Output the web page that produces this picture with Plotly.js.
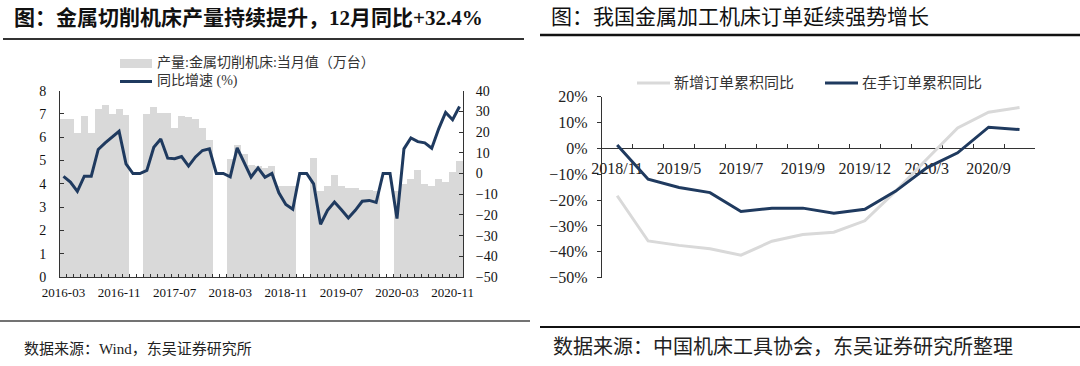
<!DOCTYPE html>
<html>
<head>
<meta charset="utf-8">
<script src="https://cdn.plot.ly/plotly-3.0.1.min.js"></script>
<style>
html,body{margin:0;padding:0;background:#fff;}
#chart{width:1080px;height:366px;}
</style>
</head>
<body>
<div id="chart"></div>
<script>
// ---------- Left chart data ----------
const months = [
 "2016-03","2016-04","2016-05","2016-06","2016-07","2016-08","2016-09","2016-10","2016-11","2016-12",
 "2017-01","2017-02","2017-03","2017-04","2017-05","2017-06","2017-07","2017-08","2017-09","2017-10","2017-11","2017-12",
 "2018-01","2018-02","2018-03","2018-04","2018-05","2018-06","2018-07","2018-08","2018-09","2018-10","2018-11","2018-12",
 "2019-01","2019-02","2019-03","2019-04","2019-05","2019-06","2019-07","2019-08","2019-09","2019-10","2019-11","2019-12",
 "2020-01","2020-02","2020-03","2020-04","2020-05","2020-06","2020-07","2020-08","2020-09","2020-10","2020-11","2020-12"
];
// 产量:金属切削机床:当月值（万台）
const production = [
 6.8,6.8,6.2,6.9,6.2,7.2,7.4,7.0,7.2,6.95,
 null,null,7.0,7.28,7.05,7.05,6.38,6.9,6.88,6.8,6.4,5.9,
 null,null,5.08,5.68,5.3,4.8,4.75,4.7,4.75,3.9,3.9,3.9,
 null,null,5.12,3.7,3.9,4.4,3.9,3.82,3.82,3.75,3.75,3.7,
 null,null,3.7,4.0,4.2,4.6,4.0,3.9,4.2,4.1,4.5,5.0
];
// 同比增速 (%)
const yoy = [
 -1.4,-4.1,-8.6,-1.3,-1.3,11.6,14.8,17.5,20.4,4.7,
 0,0,1.5,12.7,16.7,7.4,7.1,8.2,3.6,8.0,11.1,11.9,
 0,0,-1.6,12.4,5.5,-1.7,2.7,-1.8,0,-9.3,-15,-17.3,
 0,0,-5.0,-24.5,-17.8,-13.8,-17.5,-21.5,-17.8,-13.4,-13,-14,
 0,0,-21.8,11.9,17.2,15.4,14.8,12.2,21.6,29.5,26,32.4
];
const leftTickLabels = ["2016-03","2016-11","2017-07","2018-03","2018-11","2019-07","2020-03","2020-11"];

// ---------- Right chart data ----------
const orderCats = ["2018/11","2019/3","2019/5","2019/6","2019/7","2019/8","2019/9","2019/10","2019/12","2020/2","2020/3","2020/6","2020/9","2020/10"];
const orderTickLabels = ["2018/11","2019/5","2019/7","2019/9","2019/12","2020/3","2020/9"];
const newOrders = [-18.3,-35.8,-37.5,-38.8,-41.3,-35.9,-33.3,-32.4,-28.0,-16.5,-4.2,7.9,14.0,15.8];
const backlog   = [1.3,-11.9,-15.1,-17.1,-24.4,-23.1,-23.1,-25.1,-23.5,-16.5,-7.5,-1.7,8.2,7.3];

const SERIF = "Liberation Serif, 'Noto Sans CJK SC', serif";
const NAVY = "#1f3a5f";
const GRAYBAR = "#d9d9d9";
const LIGHT = "#d9d9d9";

const traces = [
 {type:'bar', x:months, y:production, xaxis:'x', yaxis:'y', marker:{color:GRAYBAR, line:{width:0}}, name:'产量:金属切削机床:当月值（万台）', showlegend:false, hoverinfo:'skip'},
 {type:'scatter', mode:'lines', x:months, y:yoy, xaxis:'x', yaxis:'y2', line:{color:NAVY, width:3}, name:'同比增速 (%)', showlegend:false},
 {type:'scatter', mode:'lines', x:orderCats, y:newOrders, xaxis:'x3', yaxis:'y3', line:{color:LIGHT, width:3}, name:'新增订单累积同比', showlegend:false},
 {type:'scatter', mode:'lines', x:orderCats, y:backlog, xaxis:'x3', yaxis:'y3', line:{color:NAVY, width:3}, name:'在手订单累积同比', showlegend:false}
];

const W = 1080, H = 366;
const px = v => v / W;
const py = v => 1 - v / H;

const leftTickText = months.map(m => leftTickLabels.includes(m) ? m : '');
const rightTickText = orderCats.map(c => orderTickLabels.includes(c) ? c : '');

const yDomR = [py(277.7), py(96.7)];
const zeroPos = yDomR[0] + (50/70) * (yDomR[1] - yDomR[0]);

const layout = {
 width: W, height: H, autosize:false,
 margin:{l:0,r:0,t:0,b:0},
 paper_bgcolor:'#fff', plot_bgcolor:'rgba(0,0,0,0)',
 bargap:0,
 showlegend:false,
 font:{family:SERIF, color:'#000'},
 xaxis:{
  domain:[px(60), px(463)], anchor:'y', type:'category', range:[-0.5, months.length-0.5],
  tickmode:'array', tickvals:months, ticktext:leftTickText, tickson:'boundaries',
  ticks:'inside', ticklen:3, tickcolor:'#333', tickangle:0,
  showline:true, linecolor:'#333', linewidth:1, showgrid:false, zeroline:false,
  tickfont:{family:SERIF, size:13, color:'#111'}, ticklabelstandoff:3
 },
 yaxis:{
  domain:[py(277), py(90.7)], anchor:'x', range:[0,8], dtick:1, tick0:0,
  ticks:'inside', ticklen:4, tickcolor:'#333', showline:true, linecolor:'#333', linewidth:1,
  showgrid:false, zeroline:false, tickfont:{family:SERIF, size:14, color:'#111'}, ticklabelstandoff:10
 },
 yaxis2:{
  overlaying:'y', side:'right', anchor:'x', range:[-50,40], dtick:10, tick0:0,
  ticks:'inside', ticklen:4, tickcolor:'#333', showline:true, linecolor:'#333', linewidth:1,
  showgrid:false, zeroline:false, tickfont:{family:SERIF, size:14, color:'#111'}, ticklabelstandoff:9
 },
 xaxis3:{
  domain:[px(601.7), px(1035)], anchor:'free', position:zeroPos, type:'category', range:[-0.5, orderCats.length-0.5],
  tickmode:'array', tickvals:orderCats, ticktext:rightTickText, tickson:'boundaries',
  ticks:'inside', ticklen:4, tickcolor:'#333', tickangle:0, layer:'below traces',
  showline:true, linecolor:'#333', linewidth:1, showgrid:false, zeroline:false,
  tickfont:{family:SERIF, size:16, color:'#222'}, ticklabelstandoff:5
 },
 yaxis3:{
  domain:yDomR, anchor:'x3', range:[-50,20], dtick:10, tick0:0, ticksuffix:'%',
  ticks:'outside', ticklen:4, tickcolor:'#333', showline:true, linecolor:'#333', linewidth:1,
  showgrid:false, zeroline:false, tickfont:{family:SERIF, size:16, color:'#222'}, ticklabelstandoff:6
 },
 shapes:[
  {type:'line', xref:'paper', yref:'paper', x0:px(3), x1:px(524), y0:py(39), y1:py(39), line:{color:'#333', width:2}},
  {type:'line', xref:'paper', yref:'paper', x0:px(540), x1:px(1080), y0:py(35), y1:py(35), line:{color:'#111', width:2.5}},
  {type:'line', xref:'paper', yref:'paper', x0:px(0), x1:px(530), y0:py(321), y1:py(321), line:{color:'#444', width:1.5}},
  {type:'line', xref:'paper', yref:'paper', x0:px(540), x1:px(1080), y0:py(327), y1:py(327), line:{color:'#111', width:2}},
  {type:'rect', xref:'paper', yref:'paper', x0:px(120), x1:px(152), y0:py(68), y1:py(59), fillcolor:GRAYBAR, line:{width:0}},
  {type:'line', xref:'paper', yref:'paper', x0:px(120), x1:px(152), y0:py(81.5), y1:py(81.5), line:{color:NAVY, width:3}},
  {type:'line', xref:'paper', yref:'paper', x0:px(637), x1:px(670), y0:py(83), y1:py(83), line:{color:LIGHT, width:3}},
  {type:'line', xref:'paper', yref:'paper', x0:px(825), x1:px(858), y0:py(83), y1:py(83), line:{color:NAVY, width:3}}
 ],
 annotations:[
  {xref:'paper', yref:'paper', x:px(12), y:py(18), xanchor:'left', yanchor:'middle', showarrow:false,
   text:'<b>图：金属切削机床产量持续提升，12月同比+32.4%</b>', font:{family:SERIF, size:21, color:'#111'}},
  {xref:'paper', yref:'paper', x:px(549), y:py(17), xanchor:'left', yanchor:'middle', showarrow:false,
   text:'图：我国金属加工机床订单延续强势增长', font:{family:SERIF, size:21, color:'#111'}},
  {xref:'paper', yref:'paper', x:px(155), y:py(63), xanchor:'left', yanchor:'middle', showarrow:false,
   text:'产量:金属切削机床:当月值（万台）', font:{family:SERIF, size:14, color:'#333'}},
  {xref:'paper', yref:'paper', x:px(155), y:py(81), xanchor:'left', yanchor:'middle', showarrow:false,
   text:'同比增速 (%)', font:{family:SERIF, size:14, color:'#333'}},
  {xref:'paper', yref:'paper', x:px(672), y:py(83), xanchor:'left', yanchor:'middle', showarrow:false,
   text:'新增订单累积同比', font:{family:SERIF, size:15, color:'#333'}},
  {xref:'paper', yref:'paper', x:px(860), y:py(83), xanchor:'left', yanchor:'middle', showarrow:false,
   text:'在手订单累积同比', font:{family:SERIF, size:15, color:'#333'}},
  {xref:'paper', yref:'paper', x:px(22), y:py(349), xanchor:'left', yanchor:'middle', showarrow:false,
   text:'数据来源：Wind，东吴证券研究所', font:{family:SERIF, size:15, color:'#222'}},
  {xref:'paper', yref:'paper', x:px(551), y:py(347), xanchor:'left', yanchor:'middle', showarrow:false,
   text:'数据来源：中国机床工具协会，东吴证券研究所整理', font:{family:SERIF, size:20, color:'#222'}}
 ]
};

Plotly.newPlot('chart', traces, layout, {staticPlot:true, displayModeBar:false});
</script>
</body>
</html>
